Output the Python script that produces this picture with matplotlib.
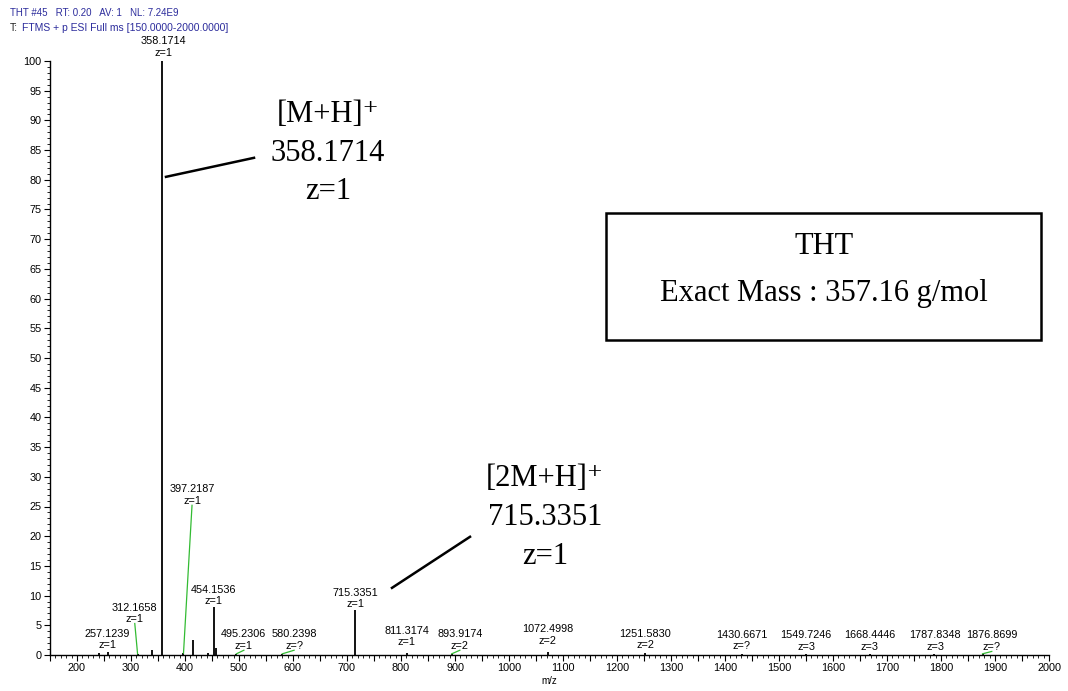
import matplotlib
matplotlib.use("Agg")
import matplotlib.pyplot as plt
from matplotlib.patches import Rectangle
from matplotlib.ticker import MultipleLocator, FuncFormatter

plt.rcParams['font.family'] = ['Liberation Sans', 'DejaVu Sans']

# centroid sticks (m/z, relative abundance %)
peak_mz = [240.7, 257.1239, 312.1658, 339.5, 358.1714, 397.2187, 413.9, 443.5,
           454.1536, 457.2, 495.2306, 580.2398, 715.3351, 811.3174, 893.9174,
           1072.4998, 1251.5830, 1430.6671, 1549.7246, 1668.4446, 1787.8348, 1876.8699]
peak_int = [0.3, 0.5, 0.2, 0.8, 100.0, 0.3, 2.5, 0.4,
            8.0, 1.2, 0.2, 0.2, 7.6, 0.4, 0.2,
            0.5, 0.3, 0.2, 0.2, 0.2, 0.2, 0.2]

# labelled peaks
lab_mz = [257.1239, 312.1658, 358.1714, 397.2187, 454.1536, 495.2306, 580.2398,
          715.3351, 811.3174, 893.9174, 1072.4998, 1251.5830, 1430.6671,
          1549.7246, 1668.4446, 1787.8348, 1876.8699]
lab_z = ['1', '1', '1', '1', '1', '1', '?', '1', '1', '2', '2', '2', '?',
         '3', '3', '3', '?']

# where each label sits (x centre, y bottom) and whether a leader is drawn
lab_pos = [(255.6, 0.8), (307, 5.2), (359.3, 100.5), (413, 25.1), (452, 8.2),
           (509, 0.7), (602, 0.7), (715, 7.7), (811, 1.3), (909, 0.7),
           (1072, 1.5), (1252, 0.8), (1431, 0.6), (1550, 0.5), (1668, 0.5),
           (1789, 0.5), (1894, 0.5)]
leader = [False, True, False, True, False, True, True, False, False, True,
          False, False, False, False, False, False, True]

fig = plt.figure(figsize=(10.68, 6.91), dpi=100)
ax = fig.add_axes([50 / 1068, 36 / 691, 999 / 1068, 594 / 691])

ax.vlines(peak_mz, 0, peak_int, color='black', linewidth=1.3)

inten = dict(zip(peak_mz, peak_int))
for mz, z, (lx, ly), ld in zip(lab_mz, lab_z, lab_pos, leader):
    ax.text(lx, ly, '%.4f\nz=%s' % (mz, z), ha='center', va='bottom',
            fontsize=7.8, linespacing=1.2, clip_on=False)
    if ld:
        ax.plot([mz, lx], [inten.get(mz, 0.2), ly + 0.1], color='#33bb33',
                linewidth=0.9, clip_on=False)

ax.set_xlim(150, 2000)
ax.set_ylim(0, 100)
for s in ['top', 'right']:
    ax.spines[s].set_visible(False)
ax.spines['left'].set_linewidth(1.0)
ax.spines['bottom'].set_linewidth(1.0)

ax.xaxis.set_major_locator(MultipleLocator(50))
ax.xaxis.set_minor_locator(MultipleLocator(10))
ax.xaxis.set_major_formatter(FuncFormatter(lambda v, p: '%d' % v if v % 100 == 0 else ''))
ax.yaxis.set_major_locator(MultipleLocator(5))
ax.yaxis.set_minor_locator(MultipleLocator(1))
ax.tick_params(which='major', length=4, width=0.8, labelsize=7.8, pad=2)
ax.tick_params(which='minor', length=2, width=0.6)
ax.set_xlabel('m/z', fontsize=7, labelpad=2)

# header lines
fig.text(10 / 1068, 1 - 13 / 691, 'THT #45   RT: 0.20   AV: 1   NL: 7.24E9',
         fontsize=7, color='#2c2c9c', va='center')
fig.text(10 / 1068, 1 - 28 / 691, 'T:', fontsize=7.5, color='#222222', va='center')
fig.text(22 / 1068, 1 - 28 / 691, 'FTMS + p ESI Full ms [150.0000-2000.0000]',
         fontsize=7.5, color='#2c2c9c', va='center')

serif = ['Liberation Serif', 'DejaVu Serif']

# ion annotations
ax.plot([364.8, 527.8], [80.5, 83.7], color='black', linewidth=1.8, clip_on=False)
ax.text(664.8, 84.5, '[M+H]⁺\n358.1714\nz=1', family=serif,
        fontsize=22, ha='center', va='center', linespacing=1.45)
ax.plot([783.3, 927.8], [11.3, 19.9], color='black', linewidth=1.8, clip_on=False)
ax.text(1066.7, 23.2, '[2M+H]⁺\n715.3351\nz=1', family=serif,
        fontsize=22, ha='center', va='center', linespacing=1.45)

# compound box
ax.add_patch(Rectangle((1179.6, 53.0), 805.6, 21.4, fill=False,
                       edgecolor='black', linewidth=1.8, clip_on=False))
ax.text(1583.3, 68.7, 'THT', family=serif, fontsize=22, ha='center', va='center')
ax.text(1583.3, 60.9, 'Exact Mass : 357.16 g/mol', family=serif, fontsize=22,
        ha='center', va='center')

fig.savefig('out.png', dpi=100)
